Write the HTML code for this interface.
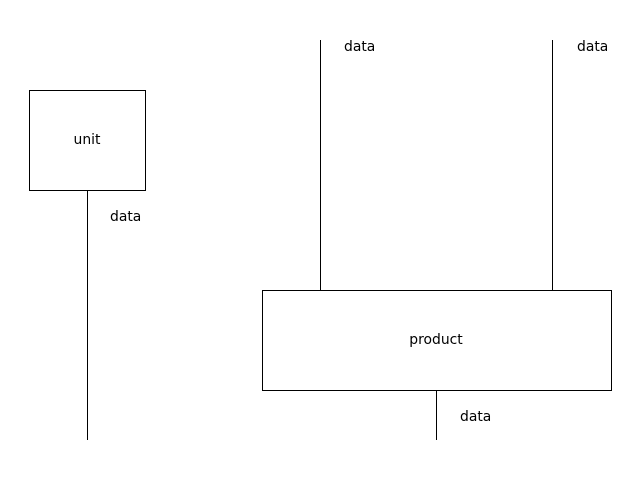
<!DOCTYPE html>
<html><head><style>body{margin:0;background:#fff}</style></head><body>
<svg width="640" height="480" xmlns="http://www.w3.org/2000/svg" style="display:block">
<g fill="none" stroke="#000" stroke-width="1">
<rect x="29.5" y="90.5" width="116" height="100"/>
<rect x="262.5" y="290.5" width="349" height="100"/>
<line x1="87.5" y1="190" x2="87.5" y2="440"/>
<line x1="320.5" y1="40" x2="320.5" y2="290"/>
<line x1="552.5" y1="40" x2="552.5" y2="290"/>
<line x1="436.5" y1="390" x2="436.5" y2="440"/>
</g>
<g font-family="DejaVu Sans, Liberation Sans, sans-serif" font-size="13.9" fill="#000">
<text x="87" y="144" text-anchor="middle">unit</text>
<text x="436" y="344" text-anchor="middle">product</text>
<text x="110" y="221">data</text>
<text x="344" y="51">data</text>
<text x="577" y="51">data</text>
<text x="460" y="421">data</text>
</g>
</svg>
</body></html>
